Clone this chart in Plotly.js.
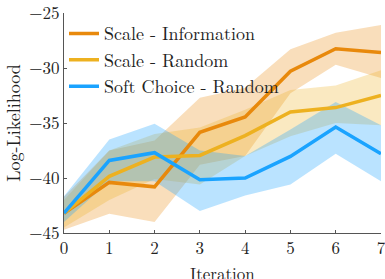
<!DOCTYPE html>
<html><head><meta charset="utf-8">
<script src="https://cdn.plot.ly/plotly-3.0.1.min.js"></script>
<style>body{margin:0;padding:0;background:#fff}#c{width:385px;height:279px}
#c text{font-family:'Latin Modern Roman','Liberation Serif',serif !important}</style>
</head><body><div id="c"></div>
<script>
const iterations = [0,1,2,3,4,5,6,7];
const seriesNames = ["Scale - Information","Scale - Random","Soft Choice - Random"];
const yTicks = [-45,-40,-35,-30,-25];
const infoMean  = [-43.2,-40.4,-40.8,-35.85,-34.45,-30.3,-28.25,-28.6];
const infoUpper = [-41.7,-37.5,-36.6,-32.7,-31.8,-28.3,-26.8,-26.1];
const infoLower = [-44.7,-43.25,-44.0,-38.8,-38.0,-32.3,-29.7,-30.9];
const randMean  = [-43.2,-39.85,-38.1,-37.95,-36.15,-34.0,-33.6,-32.5];
const randUpper = [-42.0,-37.5,-36.0,-35.4,-33.8,-32.0,-31.6,-30.2];
const randLower = [-44.5,-42.0,-40.1,-40.6,-38.0,-36.2,-35.0,-35.2];
const softMean  = [-43.2,-38.4,-37.7,-40.15,-40.0,-38.04,-35.36,-37.8];
const softUpper = [-41.67,-36.5,-35.06,-37.5,-38.0,-35.6,-33.1,-35.2];
const softLower = [-44.0,-40.3,-40.3,-43.0,-41.6,-40.6,-37.8,-40.3];

const colors = ["rgb(232,137,12)","rgb(237,177,32)","rgb(26,163,255)"];
const fills = ["rgba(232,137,12,0.28)","rgba(237,177,32,0.28)","rgba(26,163,255,0.3)"];
const means=[infoMean,randMean,softMean], ups=[infoUpper,randUpper,softUpper], lows=[infoLower,randLower,softLower];
const traces=[];
for(let i=0;i<3;i++){
  traces.push({x:iterations.concat(iterations.slice().reverse()),
    y:ups[i].concat(lows[i].slice().reverse()),
    fill:'toself',fillcolor:fills[i],line:{width:0},mode:'lines',showlegend:false,hoverinfo:'skip'});
}
for(let i=0;i<3;i++){
  traces.push({x:iterations,y:means[i],mode:'lines',name:seriesNames[i],line:{color:colors[i],width:3.5}});
}
const f="Latin Modern Roman";
Plotly.newPlot('c',traces,{
  width:385,height:279,margin:{l:64,r:4,t:13,b:46},
  paper_bgcolor:'#fff',plot_bgcolor:'#fff',
  font:{family:f,size:17,color:'#222'},
  xaxis:{range:[0,7],tickvals:iterations,ticks:'inside',ticklen:3,tickcolor:'#555',showline:true,linecolor:'#555',linewidth:1,showgrid:false,zeroline:false,
    ticklabeloverflow:'allow',tickfont:{family:f,size:17}},
  yaxis:{range:[-45,-25],tickvals:yTicks,ticks:'inside',ticklen:3,tickcolor:'#555',showline:true,linecolor:'#555',linewidth:1,showgrid:false,zeroline:false,
    ticklabeloverflow:'allow',
    title:{text:'Log-Likelihood',font:{family:f,size:18},standoff:6},tickfont:{family:f,size:17}},
  annotations:[{text:'Iteration',xref:'paper',yref:'paper',x:0.5,y:0,xanchor:'center',yanchor:'top',yshift:-26,showarrow:false,font:{family:f,size:17,color:'#222'}}],
  legend:{x:0,y:0.99,xanchor:'left',yanchor:'top',bgcolor:'rgba(0,0,0,0)',font:{family:f,size:18},tracegroupgap:0,itemwidth:30},
  showlegend:true
},{displayModeBar:false,staticPlot:true});
</script></body></html>
